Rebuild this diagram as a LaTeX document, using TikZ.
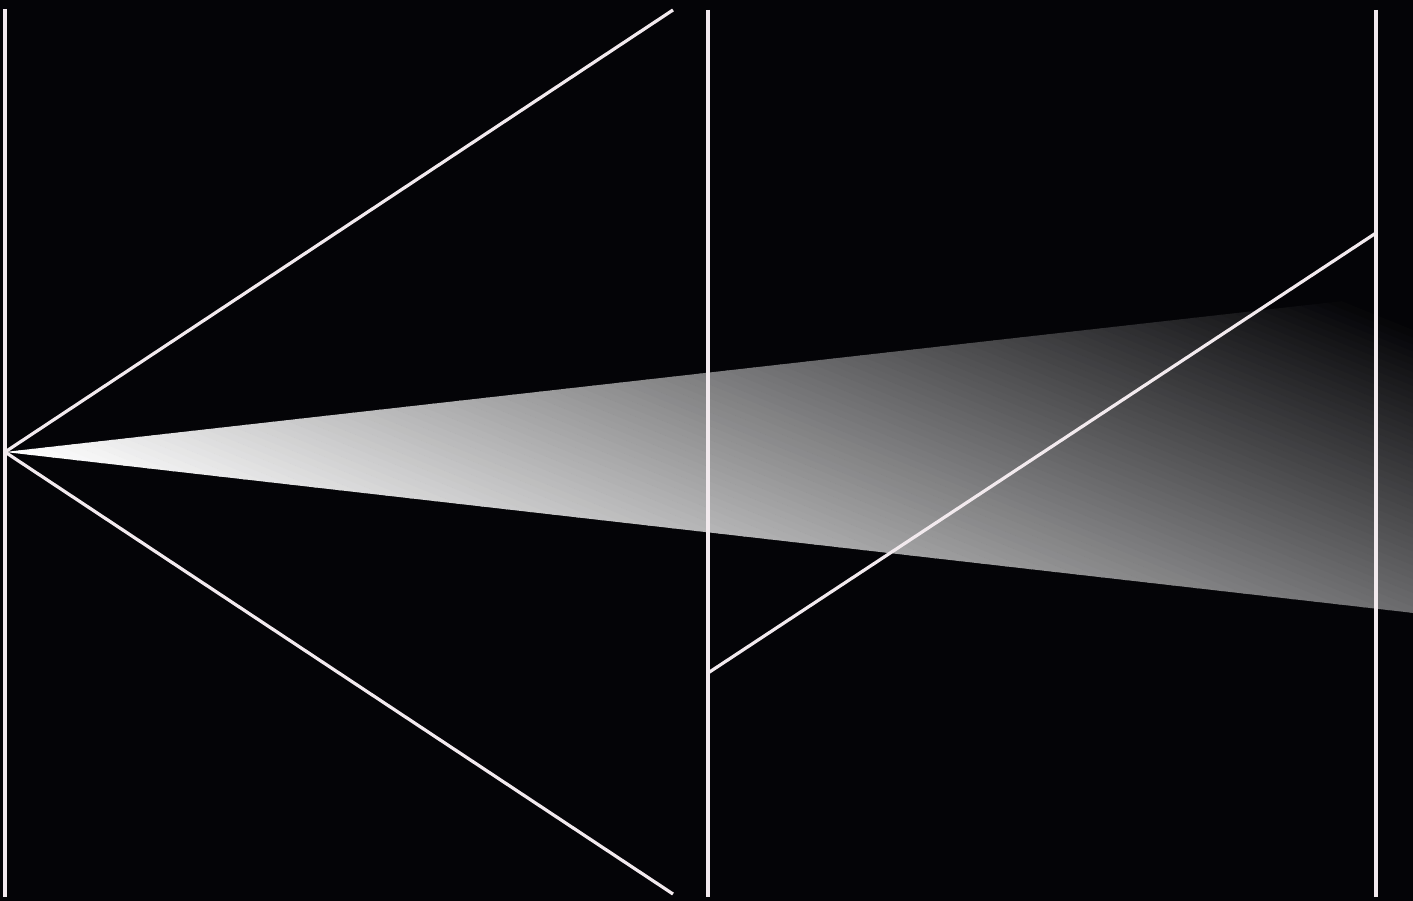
\documentclass[tikz,border=0pt]{standalone}
\usetikzlibrary{calc}
\definecolor{bgc}{RGB}{4,4,7}
\definecolor{linec}{RGB}{242,234,238}
\begin{document}
\begin{tikzpicture}[x=1pt,y=-1pt,
  wire/.style={draw=linec,line width=3.2pt,line cap=butt}]
\useasboundingbox (0,0) rectangle (1413,901);
\fill[bgc] (0,0) rectangle (1413,901);
% named points
\coordinate (apex) at (5,452);
\coordinate (wtop) at (1414,293);
\coordinate (wbot) at (1414,613);
\coordinate (v1t) at (5,9);
\coordinate (v1b) at (5,897);
\coordinate (v2t) at (708,10);
\coordinate (v2b) at (708,897);
\coordinate (v3t) at (1376,10);
\coordinate (v3b) at (1376,897);
\coordinate (dupper) at (673,10);
\coordinate (dlower) at (673,894);
\coordinate (zlow) at (708,673);
\coordinate (zhigh) at (1376,233);
% gradient wedge
\begin{scope}
  \clip (apex) -- (wtop) -- (wbot) -- cycle;
  \begin{scope}[shift={(apex)}, rotate=68]
    \foreach \i in {0,...,99} {
      \pgfmathsetmacro\p{100-\i}
      \fill[white!\p!bgc] (\i*6.4,-1600) rectangle (\i*6.4+7,1600);
    }
  \end{scope}
\end{scope}
% lines
\draw[wire] (v1t) -- (v1b);
\draw[wire] (v2t) -- (v2b);
\draw[wire] (v3t) -- (v3b);
\draw[wire] (apex) -- (dupper);
\draw[wire] (apex) -- (dlower);
\draw[wire] (zlow) -- (zhigh);
\end{tikzpicture}
\end{document}
